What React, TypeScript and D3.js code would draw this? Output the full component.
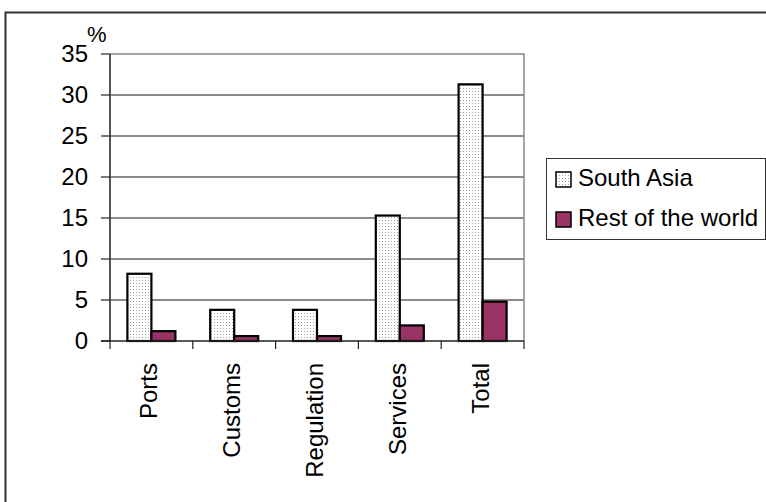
import React from "react";
import * as d3 from "d3";

const categories = ["Ports", "Customs", "Regulation", "Services", "Total"];
const southAsia = [8.2, 3.8, 3.8, 15.3, 31.3];
const restOfWorld = [1.2, 0.6, 0.6, 1.9, 4.8];
const yTicks = [0, 5, 10, 15, 20, 25, 30, 35];
const seriesNames = ["South Asia", "Rest of the world"];

const FONT = "'Liberation Sans', Arial, sans-serif";

export default function App() {
  const W = 766;
  const H = 502;
  const plotLeft = 110;
  const plotRight = 524;
  const plotTop = 54;
  const plotBottom = 341;

  const y = d3.scaleLinear().domain([0, 35]).range([plotBottom, plotTop]);
  const x = d3.scaleBand<string>().domain(categories).range([plotLeft, plotRight]);
  const barW = 24;
  const sub = d3.scaleBand<number>().domain([0, 1]).range([-barW, barW]);

  const boundaries = d3.range(categories.length + 1).map((i) => plotLeft + i * x.step());

  return (
    <svg
      width={W}
      height={H}
      style={{ position: "fixed", left: 0, top: 0, background: "#fff" }}
      fontFamily={FONT}
    >
      <defs>
        <pattern id="dots" width="3" height="3" patternUnits="userSpaceOnUse">
          <rect width="3" height="3" fill="#ffffff" />
          <rect x="1" y="1" width="1" height="1" fill="#a0a0a0" />
        </pattern>
      </defs>
      <rect width={W} height={H} fill="#fff" />
      {/* outer frame */}
      <path d={`M5.5,${H} V12.5 H${W}`} fill="none" stroke="#333" strokeWidth={2} />

      {/* gridlines */}
      {yTicks
        .filter((t) => t > 0 && t < 35)
        .map((t) => (
          <line key={t} x1={plotLeft} x2={plotRight} y1={y(t)} y2={y(t)} stroke="#1a1a1a" strokeWidth={1.2} />
        ))}
      {/* plot border top/right */}
      <path
        d={`M${plotLeft},${y(35)} H${plotRight} V${plotBottom}`}
        fill="none"
        stroke="#888"
        strokeWidth={1.5}
      />

      {/* bars */}
      {categories.map((c, i) => {
        const cx = (x(c) as number) + x.bandwidth() / 2;
        return (
          <g key={c}>
            <rect
              x={cx + (sub(0) as number)}
              y={y(southAsia[i])}
              width={barW}
              height={y(0) - y(southAsia[i])}
              fill="url(#dots)"
              stroke="#000"
              strokeWidth={2.2}
            />
            <rect
              x={cx + (sub(1) as number)}
              y={y(restOfWorld[i])}
              width={barW}
              height={y(0) - y(restOfWorld[i])}
              fill="#993366"
              stroke="#000"
              strokeWidth={2.2}
            />
          </g>
        );
      })}

      {/* y axis */}
      <line x1={plotLeft} x2={plotLeft} y1={plotTop} y2={plotBottom} stroke="#444" strokeWidth={1.8} />
      {yTicks.map((t) => (
        <g key={t}>
          <line x1={plotLeft - 9} x2={plotLeft} y1={y(t)} y2={y(t)} stroke="#222" strokeWidth={1.2} />
          <text x={88} y={y(t)} dy="0.35em" textAnchor="end" fontSize={24} fill="#000">
            {t}
          </text>
        </g>
      ))}
      <text x={87} y={42} fontSize={22} fill="#000">
        %
      </text>

      {/* x axis */}
      <line x1={plotLeft - 9} x2={plotRight} y1={plotBottom} y2={plotBottom} stroke="#222" strokeWidth={1.5} />
      {boundaries.map((b, i) => (
        <line key={i} x1={b} x2={b} y1={plotBottom} y2={plotBottom + 8} stroke="#222" strokeWidth={1.2} />
      ))}
      {categories.map((c) => {
        const cx = (x(c) as number) + x.bandwidth() / 2 - 2.5;
        return (
          <text
            key={c}
            transform={`translate(${cx},363) rotate(-90)`}
            dy="0.35em"
            textAnchor="end"
            fontSize={24}
            fill="#000"
          >
            {c}
          </text>
        );
      })}

      {/* legend */}
      <rect x={546.5} y={158.5} width={219} height={81} fill="#fff" stroke="#333" strokeWidth={1} />
      {seriesNames.map((s, i) => (
        <g key={s}>
          <rect
            x={556}
            y={172 + i * 40}
            width={15}
            height={15}
            fill={i === 0 ? "url(#dots)" : "#993366"}
            stroke="#000"
            strokeWidth={1.5}
          />
          <text x={578} y={186 + i * 40} fontSize={24} fill="#000">
            {s}
          </text>
        </g>
      ))}
    </svg>
  );
}
